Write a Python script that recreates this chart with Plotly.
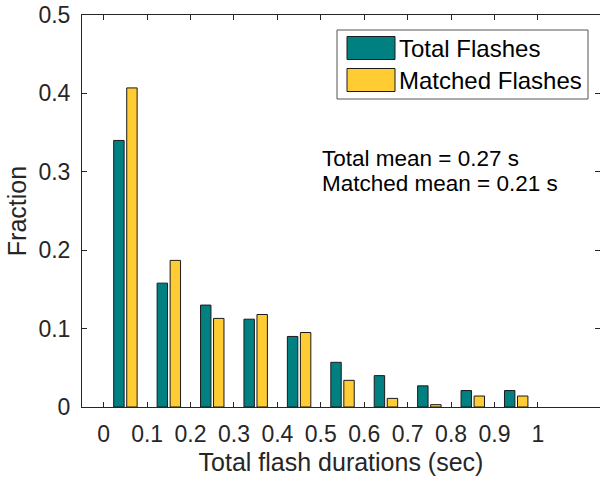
import plotly.graph_objects as go

# ---- data ----
bin_centers = [0.05, 0.15, 0.25, 0.35, 0.45, 0.55, 0.65, 0.75, 0.85, 0.95]
total_frac = [0.340, 0.158, 0.130, 0.112, 0.090, 0.057, 0.040, 0.027, 0.021, 0.021]
matched_frac = [0.407, 0.187, 0.113, 0.118, 0.095, 0.034, 0.011, 0.003, 0.014, 0.014]
series_names = ["Total Flashes", "Matched Flashes"]
tick_vals = [0, 0.1, 0.2, 0.3, 0.4, 0.5, 0.6, 0.7, 0.8, 0.9, 1.0]
tick_text = ["0", "0.1", "0.2", "0.3", "0.4", "0.5", "0.6", "0.7", "0.8", "0.9", "1"]
ytick_vals = [0, 0.1, 0.2, 0.3, 0.4, 0.5]
ytick_text = ["0", "0.1", "0.2", "0.3", "0.4", "0.5"]
stats_text = ["Total mean = 0.27 s", "Matched mean = 0.21 s"]

TEAL = "#008080"
YELLOW = "#FFCC33"
DARK = "#262626"
FONT = "Arial, Liberation Sans, sans-serif"

W, H = 600, 482
L, R, T, B = 82, 0, 15, 75
pw, ph = W - L - R, H - T - B


def px(x):
    return (x - L) / pw


def py(y):
    return (H - B - y) / ph


fig = go.Figure()
fig.add_trace(go.Bar(x=bin_centers, y=total_frac, name=series_names[0],
                     marker=dict(color=TEAL, line=dict(color="#1a1a1a", width=1)),
                     showlegend=False))
fig.add_trace(go.Bar(x=bin_centers, y=matched_frac, name=series_names[1],
                     marker=dict(color=YELLOW, line=dict(color="#1a1a1a", width=1)),
                     showlegend=False))

shapes = []
annotations = []
# manual legend box
shapes.append(dict(type="rect", xref="paper", yref="paper",
                   x0=px(337), x1=px(588), y0=py(30), y1=py(99),
                   line=dict(color="#555555", width=1), fillcolor="white", layer="above"))
for i, (col, name) in enumerate(zip([TEAL, YELLOW], series_names)):
    top = 36.5 + i * 32
    shapes.append(dict(type="rect", xref="paper", yref="paper",
                       x0=px(347), x1=px(395), y0=py(top), y1=py(top + 23),
                       line=dict(color="#1a1a1a", width=1), fillcolor=col, layer="above"))
    annotations.append(dict(xref="paper", yref="paper", x=px(397), y=py(top + 12),
                            xanchor="left", yanchor="middle", showarrow=False,
                            text=name, font=dict(family=FONT, size=24, color="#000000")))

# stats text: base size sets line spacing, span sets glyph size
stats_html = "<br>".join('<span style="font-size:22.5px">%s</span>' % s for s in stats_text)
annotations.append(dict(xref="paper", yref="paper", x=px(320), y=py(144),
                        xanchor="left", yanchor="top", showarrow=False, align="left",
                        text=stats_html, font=dict(family=FONT, size=19.4, color="#000000")))

fig.update_layout(
    width=W, height=H,
    margin=dict(l=L, r=R, t=T, b=B, pad=0),
    paper_bgcolor="white", plot_bgcolor="white",
    barmode="group", bargap=0.4, bargroupgap=0.2,
    font=dict(family=FONT, size=23, color=DARK),
    shapes=shapes, annotations=annotations,
)
fig.update_xaxes(range=[-0.05, 1.143], tickvals=tick_vals, ticktext=tick_text,
                 ticks="inside", ticklen=5, tickcolor=DARK, showline=True, linecolor=DARK,
                 linewidth=1, mirror="ticks", showgrid=False, zeroline=False,
                 tickfont=dict(size=23, color=DARK), ticklabelstandoff=6,
                 title=dict(text="Total flash durations (sec)", font=dict(size=25, color=DARK), standoff=7))
fig.update_yaxes(range=[0, 0.5], tickvals=ytick_vals, ticktext=ytick_text,
                 ticks="inside", ticklen=5, tickcolor=DARK, showline=True, linecolor=DARK,
                 linewidth=1, mirror="ticks", showgrid=False, zeroline=False,
                 tickfont=dict(size=23, color=DARK), ticklabelstandoff=6,
                 title=dict(text="Fraction", font=dict(size=25, color=DARK), standoff=4))

fig.write_html("out.html")
